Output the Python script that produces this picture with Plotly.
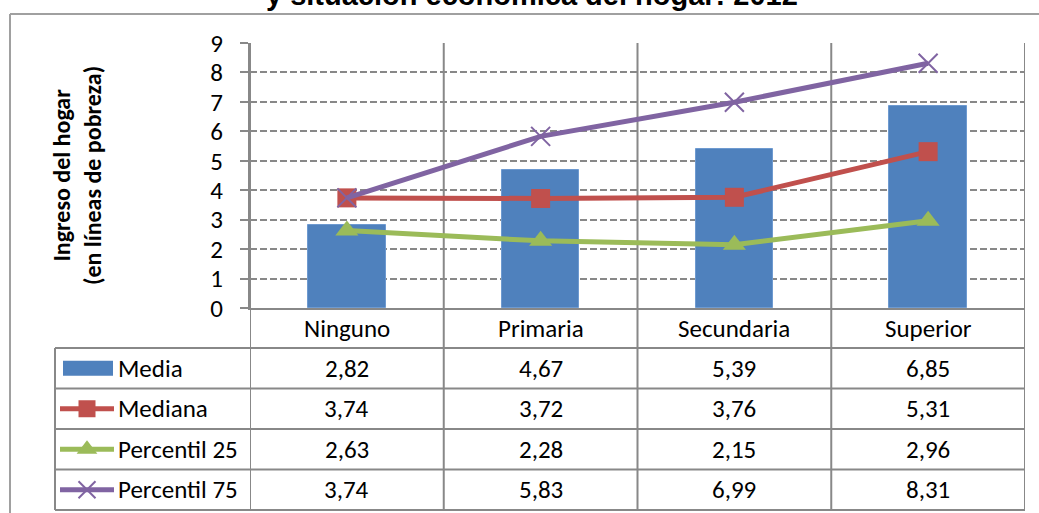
import plotly.graph_objects as go

# datos
categorias = ["Ninguno", "Primaria", "Secundaria", "Superior"]
media = [2.82, 4.67, 5.39, 6.85]
mediana = [3.74, 3.72, 3.76, 5.31]
percentil25 = [2.63, 2.28, 2.15, 2.96]
percentil75 = [3.74, 5.83, 6.99, 8.31]
series = ["Media", "Mediana", "Percentil 25", "Percentil 75"]

# body margin is removed in post_script, figure fills the window
W, H = 1039, 513
AZUL, ROJO, VERDE, MORADO = "#4F81BD", "#C0504D", "#9BBB59", "#8064A2"
GRIS = "#888888"
FUENTE = "Carlito, Calibri, Lato, sans-serif"

# plot area in screen pixels
x0, x1, y0, y1 = 250, 1025, 43, 308
filas = [348, 388.5, 429, 469.5, 510]

fig = go.Figure()

fig.add_trace(go.Bar(x=categorias, y=media, name="Media", width=0.4,
                     marker=dict(color=AZUL, line=dict(color="#6E9AD0", width=1))))
fig.add_trace(go.Scatter(x=categorias, y=mediana, name="Mediana", mode="lines+markers",
                         line=dict(color=ROJO, width=5),
                         marker=dict(symbol="square", size=19, color=ROJO)))
fig.add_trace(go.Scatter(x=categorias, y=percentil25, name="Percentil 25", mode="lines+markers",
                         line=dict(color=VERDE, width=5),
                         marker=dict(symbol="triangle-up", size=20, color=VERDE)))
fig.add_trace(go.Scatter(x=categorias, y=percentil75, name="Percentil 75", mode="lines+markers",
                         line=dict(color=MORADO, width=5),
                         marker=dict(symbol="x-thin", size=19, line=dict(color=MORADO, width=2))))

# legend keys inside the table (pixel overlay axis)
claves = [(ROJO, "square", 17), (VERDE, "triangle-up", 18), (MORADO, "x-thin", 17)]
for k, (col, sym, sz) in enumerate(claves):
    yc = (filas[k + 1] + filas[k + 2]) / 2
    fig.add_trace(go.Scatter(x=[60, 87, 114], y=[yc] * 3, mode="lines", xaxis="x2", yaxis="y2",
                             line=dict(color=col, width=5), showlegend=False, hoverinfo="skip"))
    mk = dict(symbol=sym, size=sz, color=col)
    if sym == "x-thin":
        mk["line"] = dict(color=col, width=2)
    fig.add_trace(go.Scatter(x=[87], y=[yc], mode="markers", xaxis="x2", yaxis="y2",
                             marker=mk, showlegend=False, hoverinfo="skip"))

shapes = []
annotations = []

# outer frame (only top and left edges are inside the window)
shapes.append(dict(type="line", xref="x2", yref="y2", x0=10, x1=1039, y0=14, y1=14,
                   line=dict(color="#A0A0A0", width=2)))
shapes.append(dict(type="line", xref="x2", yref="y2", x0=10, x1=10, y0=14, y1=513,
                   line=dict(color="#A0A0A0", width=2)))

# column lines through plot and table
for i in range(len(categorias) + 1):
    shapes.append(dict(type="line", xref="x", yref="y2", x0=i - 0.5, x1=i - 0.5, y0=y0, y1=filas[-1],
                       line=dict(color=GRIS, width=2), layer="below"))
# row lines
for yf in filas:
    shapes.append(dict(type="line", xref="x2", yref="y2", x0=55, x1=x1, y0=yf, y1=yf,
                       line=dict(color=GRIS, width=2)))
shapes.append(dict(type="line", xref="x2", yref="y2", x0=55, x1=55, y0=filas[0], y1=filas[-1],
                   line=dict(color=GRIS, width=2)))
# media key
ym = (filas[0] + filas[1]) / 2
shapes.append(dict(type="rect", xref="x2", yref="y2", x0=63, x1=113, y0=ym - 7.5, y1=ym + 7.5,
                   fillcolor=AZUL, line=dict(width=0)))

# header row
for c in categorias:
    annotations.append(dict(x=c, y=(y1 + filas[0]) / 2, xref="x", yref="y2", text=c, showarrow=False,
                            font=dict(size=25, color="black", family=FUENTE)))
# value rows
for k, (nombre, vals) in enumerate(zip(series, [media, mediana, percentil25, percentil75])):
    yc = (filas[k] + filas[k + 1]) / 2
    annotations.append(dict(x=116, y=yc, xref="x2", yref="y2", text=nombre, showarrow=False,
                            xanchor="left", font=dict(size=25, color="black", family=FUENTE)))
    for c, v in zip(categorias, vals):
        annotations.append(dict(x=c, y=yc, xref="x", yref="y2", text=f"{v:.2f}".replace(".", ","),
                                showarrow=False, font=dict(size=25, color="black", family=FUENTE)))

# y axis title
annotations.append(dict(x=77, y=176, xref="x2", yref="y2", textangle=-90, showarrow=False,
                        text="<b>Ingreso del hogar<br>(en líneas de pobreza)</b>",
                        font=dict(size=24, color="black", family=FUENTE)))
# title (cut off at top of the window)
annotations.append(dict(x=532 / W, y=1 - 13 / H, xref="paper", yref="paper",
                        yanchor="bottom", showarrow=False,
                        text="<b>y situación económica del hogar: 2012</b>",
                        font=dict(size=29, color="black", family="Liberation Sans, Arial")))

fig.update_layout(
    width=W, height=H,
    margin=dict(l=0, r=0, t=0, b=0),
    paper_bgcolor="white", plot_bgcolor="rgba(0,0,0,0)",
    showlegend=False,
    bargap=0,
    xaxis=dict(domain=[x0 / W, x1 / W], range=[-0.5, 3.5], showticklabels=False,
               ticks="", showgrid=False, showline=True, linecolor=GRIS, linewidth=2, zeroline=False,
               fixedrange=True, automargin=False),
    yaxis=dict(domain=[1 - y1 / H, 1 - y0 / H], range=[0, 9], dtick=1,
               ticks="outside", ticklen=8, tickcolor=GRIS, tickwidth=2, showline=True,
               linecolor=GRIS, linewidth=2, showgrid=True, gridcolor=GRIS, gridwidth=2,
               griddash="7px,3px", zeroline=False,
               tickfont=dict(size=25, color="black", family=FUENTE), ticklabelstandoff=12,
               fixedrange=True, automargin=False),
    xaxis2=dict(domain=[0, 1], range=[0, W], visible=False, anchor="y2", fixedrange=True),
    yaxis2=dict(domain=[0, 1], range=[H, 0], visible=False, anchor="x2", fixedrange=True),
    shapes=shapes,
    annotations=annotations,
)

fig.write_html("out.html", config={"displayModeBar": False},
               post_script="document.body.style.margin='0';document.body.style.overflow='hidden';")
